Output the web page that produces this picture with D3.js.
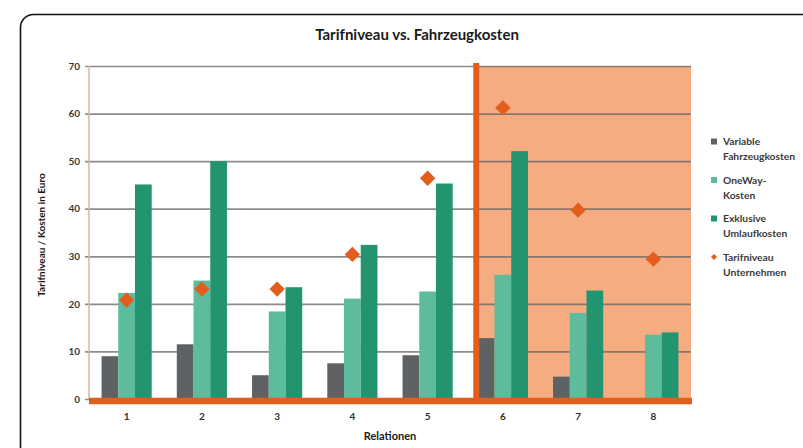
<!DOCTYPE html>
<html>
<head>
<meta charset="utf-8">
<script src="https://cdn.jsdelivr.net/npm/d3@7"></script>
<style>
  body { margin: 0; background: #fff; }
  svg { display: block; font-family: Lato, "Open Sans", sans-serif; }
</style>
</head>
<body>
<div id="chart"></div>
<script>
"use strict";

// Values
var relationen = ['1', '2', '3', '4', '5', '6', '7', '8'];
var seriesNames = ['Variable Fahrzeugkosten', 'OneWay-Kosten', 'Exklusive Umlaufkosten'];
var variableKosten = [9.0, 11.5, 5.0, 7.5, 9.2, 12.8, 4.7, 0];
var oneWayKosten = [22.3, 24.9, 18.4, 21.1, 22.6, 26.1, 18.1, 13.5];
var umlaufKosten = [45.1, 50.0, 23.5, 32.4, 45.3, 52.1, 22.8, 14.0];
var tarifniveau = [20.8, 23.1, 23.1, 30.4, 46.4, 61.2, 39.7, 29.4];
var yTicks = [0, 10, 20, 30, 40, 50, 60, 70];
var legendLines = [
  ['Variable', 'Fahrzeugkosten'],
  ['OneWay-', 'Kosten'],
  ['Exklusive', 'Umlaufkosten'],
  ['Tarifniveau', 'Unternehmen']
];
var shadedFrom = '6'; // relations in the highlighted area

var width = 803, height = 448;
var margin = { left: 89, right: 112, top: 66, bottom: 49 };
var colors = ['#5f6264', '#5cbc9c', '#239470'];
var orange = '#e35d1c';

var svg = d3.select('#chart')
  .append('svg')
    .attr('width', width)
    .attr('height', height);

// Rounded frame, cut off by the picture edge
svg.append('rect')
  .attr('x', 20.5)
  .attr('y', 14.5)
  .attr('width', 820)
  .attr('height', 460)
  .attr('rx', 13)
  .attr('fill', 'none')
  .attr('stroke', '#111')
  .attr('stroke-width', 1.6);

var plotRight = width - margin.right;
var plotBottom = height - margin.bottom;

var x0 = d3.scaleBand()
  .domain(relationen)
  .range([margin.left, plotRight]);

var x1 = d3.scaleBand()
  .domain(seriesNames)
  .range([x0.bandwidth() / 6, x0.bandwidth() * 5 / 6]);

var y = d3.scaleLinear()
  .domain([0, 70])
  .range([plotBottom, margin.top]);

// Highlighted area
var dividerX = x0(shadedFrom) + 11;
svg.append('rect')
  .attr('x', dividerX)
  .attr('y', y(70))
  .attr('width', plotRight - dividerX)
  .attr('height', y(0) - y(70))
  .attr('fill', '#f4ac80');

// Grid lines and y axis
var yAxis = d3.axisLeft(y)
  .tickValues(yTicks)
  .tickSize(-(plotRight - margin.left))
  .tickPadding(9)
  .tickFormat(d3.format('d'));

var yAxisG = svg.append('g')
  .attr('transform', 'translate(' + margin.left + ',0)')
  .call(yAxis);
yAxisG.select('.domain').remove();
yAxisG.selectAll('.tick line')
  .attr('stroke', '#666')
  .attr('stroke-opacity', 0.75)
  .attr('stroke-width', 1.7)
  .attr('x1', -4);
yAxisG.selectAll('.tick text')
  .attr('fill', '#3a3a3a')
  .attr('font-size', 10)
  .attr('font-weight', 700)
  .attr('font-family', 'Lato, sans-serif');

svg.append('line')
  .attr('x1', margin.left)
  .attr('x2', margin.left)
  .attr('y1', y(70))
  .attr('y2', y(0))
  .attr('stroke', '#d7b79f')
  .attr('stroke-width', 1.5);

// Bars
var rows = relationen.map(function (r, i) {
  return { rel: r, values: [variableKosten[i], oneWayKosten[i], umlaufKosten[i]] };
});

var groups = svg.selectAll('g.group')
  .data(rows)
  .enter()
  .append('g')
    .attr('class', 'group')
    .attr('transform', function (d) { return 'translate(' + x0(d.rel) + ',0)'; });

groups.selectAll('rect')
  .data(function (d) {
    return d.values.map(function (v, k) { return { name: seriesNames[k], value: v, k: k }; });
  })
  .enter()
  .append('rect')
    .attr('x', function (d) { return x1(d.name); })
    .attr('y', function (d) { return y(d.value); })
    .attr('width', x1.bandwidth())
    .attr('height', function (d) { return y(0) - y(d.value); })
    .attr('fill', function (d) { return colors[d.k]; });

// Divider and baseline
svg.append('line')
  .attr('x1', dividerX)
  .attr('x2', dividerX)
  .attr('y1', y(70) - 3)
  .attr('y2', y(0))
  .attr('stroke', orange)
  .attr('stroke-width', 6);

svg.append('line')
  .attr('x1', margin.left)
  .attr('x2', plotRight + 1)
  .attr('y1', y(0) + 2)
  .attr('y2', y(0) + 2)
  .attr('stroke', orange)
  .attr('stroke-width', 6.5);

// Tarifniveau markers
var diamond = d3.symbol().type(d3.symbolDiamond2).size(150);
svg.selectAll('path.tarif')
  .data(tarifniveau)
  .enter()
  .append('path')
    .attr('class', 'tarif')
    .attr('d', diamond)
    .attr('transform', function (d, i) {
      var cx = x0(relationen[i]) + x1(seriesNames[1]) + x1.bandwidth() / 2;
      return 'translate(' + cx + ',' + y(d) + ')';
    })
    .attr('fill', orange);

// X axis labels
var xAxisG = svg.append('g')
  .attr('transform', 'translate(0,' + y(0) + ')')
  .call(d3.axisBottom(x0).tickSize(0).tickPadding(14));
xAxisG.select('.domain').remove();
xAxisG.selectAll('.tick text')
  .attr('fill', '#2f2f2f')
  .attr('font-size', 10)
  .attr('font-weight', 700)
  .attr('font-family', 'Lato, sans-serif');

// Titles
svg.append('text')
  .attr('x', 417)
  .attr('y', 40)
  .attr('text-anchor', 'middle')
  .attr('font-size', 15)
  .attr('font-weight', 700)
  .attr('fill', '#1a1a1a')
  .text('Tarifniveau vs. Fahrzeugkosten');

svg.append('text')
  .attr('x', 390)
  .attr('y', 440)
  .attr('text-anchor', 'middle')
  .attr('font-size', 11)
  .attr('font-weight', 700)
  .attr('fill', '#1a1a1a')
  .text('Relationen');

svg.append('text')
  .attr('transform', 'translate(45,235) rotate(-90)')
  .attr('text-anchor', 'middle')
  .attr('font-size', 10)
  .attr('font-weight', 700)
  .attr('fill', '#1a1a1a')
  .text('Tarifniveau / Kosten in Euro');

// Legend
var legend = svg.selectAll('g.legend')
  .data(legendLines)
  .enter()
  .append('g')
    .attr('class', 'legend')
    .attr('transform', function (d, i) { return 'translate(711,' + (145 + i * 38.5) + ')'; });

legend.each(function (d, i) {
  var g = d3.select(this);
  if (i < 3) {
    g.append('rect')
      .attr('x', 0)
      .attr('y', -6.5)
      .attr('width', 6)
      .attr('height', 6)
      .attr('fill', colors[i]);
  } else {
    g.append('path')
      .attr('d', d3.symbol().type(d3.symbolDiamond2).size(24))
      .attr('transform', 'translate(3,-3.5)')
      .attr('fill', orange);
  }
  g.selectAll('text')
    .data(d)
    .enter()
    .append('text')
      .attr('x', 12)
      .attr('y', function (t, k) { return k * 15; })
      .attr('font-size', 10.3)
      .attr('font-weight', 700)
      .attr('fill', '#3a3a3a')
      .text(function (t) { return t; });
});
</script>
</body>
</html>
